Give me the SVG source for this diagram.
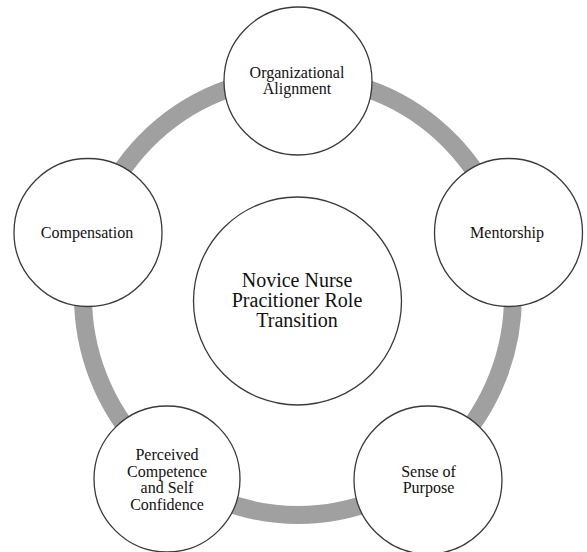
<svg xmlns="http://www.w3.org/2000/svg" width="587" height="552" viewBox="0 0 587 552">
<style>
.node{fill:#fff;stroke:#3a3a3a;stroke-width:1.3}
.lbl{font-family:"Liberation Serif","Times New Roman",serif;font-size:16px;fill:#111;text-anchor:middle}
.big{font-size:20px}
</style>
<rect width="587" height="552" fill="#fff"/>
<g id="connectors">
<ellipse cx="298" cy="296" rx="215" ry="219" fill="none" stroke="#a0a0a0" stroke-width="18"/>
</g>
<g id="center">
<circle class="node" cx="297.5" cy="301" r="104"/>
<text class="lbl big" x="297" y="287">Novice Nurse</text>
<text class="lbl big" x="297" y="307">Pracitioner Role</text>
<text class="lbl big" x="297" y="327">Transition</text>
</g>
<g id="organizational-alignment">
<circle class="node" cx="298" cy="81" r="74"/>
<text class="lbl" x="297" y="78">Organizational</text>
<text class="lbl" x="297" y="94">Alignment</text>
</g>
<g id="mentorship">
<circle class="node" cx="508.5" cy="232.5" r="74"/>
<text class="lbl" x="507" y="238">Mentorship</text>
</g>
<g id="sense-of-purpose">
<circle class="node" cx="428" cy="480" r="74"/>
<text class="lbl" x="428.5" y="477">Sense of</text>
<text class="lbl" x="428.5" y="493">Purpose</text>
</g>
<g id="perceived-competence">
<circle class="node" cx="167" cy="479" r="73"/>
<text class="lbl" x="167" y="460">Perceived</text>
<text class="lbl" x="167" y="477">Competence</text>
<text class="lbl" x="167" y="493">and Self</text>
<text class="lbl" x="167" y="510">Confidence</text>
</g>
<g id="compensation">
<circle class="node" cx="88" cy="232.5" r="74"/>
<text class="lbl" x="87" y="238">Compensation</text>
</g>
</svg>
